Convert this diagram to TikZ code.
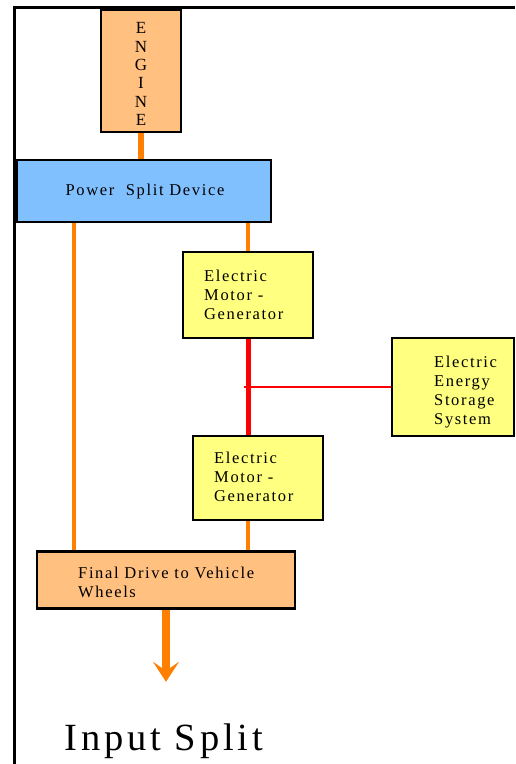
\documentclass[tikz,border=0pt]{standalone}
\usepackage{fontspec}
\setmainfont{Liberation Serif}
\newfontfamily\boxfont{Liberation Serif}[LetterSpace=10]
\newfontfamily\titlefont{Liberation Serif}[LetterSpace=10]
\usetikzlibrary{arrows.meta}
\definecolor{peach}{HTML}{FFC080}
\definecolor{skyb}{HTML}{80C0FF}
\definecolor{paley}{HTML}{FFFF80}
\definecolor{orng}{HTML}{FF8000}
\definecolor{rd}{HTML}{FF0000}
\tikzset{
  boxn/.style={draw=black, line width=2.6pt, inner sep=0pt},
  txt/.style={font=\boxfont\fontsize{16.5}{19}\selectfont, align=left, anchor=west, inner sep=0pt, text=black},
  olink/.style={draw=orng, line width=4pt},
  rlink/.style={draw=rd, line width=5pt},
}
\begin{document}
\begin{tikzpicture}[x=1pt,y=-1pt]
\useasboundingbox (0,0) rectangle (515,764);
% frame
\draw[line width=3pt] (14,764) -- (14,7) -- (515,7);
% boxes
\node[boxn, fill=peach, minimum width=80pt, minimum height=122pt] (engine) at (141,71) {};
\node[boxn, fill=skyb, minimum width=254pt, minimum height=62pt] (psd) at (144,191) {};
\node[boxn, fill=paley, minimum width=130pt, minimum height=86pt] (emg1) at (248,295) {};
\node[boxn, fill=paley, minimum width=122pt, minimum height=98pt] (eess) at (453,387) {};
\node[boxn, fill=paley, minimum width=130pt, minimum height=84pt] (emg2) at (258,478) {};
\node[boxn, fill=peach, minimum width=258pt, minimum height=57pt] (fd) at (166,580) {};
% texts
\node[font=\fontsize{17}{18.3}\selectfont, align=center, inner sep=0pt, text=black] (enginet) at (141,74) {E\\N\\G\\I\\N\\E};
\node[txt, anchor=center] (psdt) at (145,192) {Power\ \ Split Device};
\node[txt] (emg1t) at (204,295) {Electric\\Motor -\\Generator};
\node[txt] (eesst) at (434,392) {Electric\\Energy\\Storage\\System};
\node[txt] (emg2t) at (214,477) {Electric\\Motor -\\Generator};
\node[txt] (fdt) at (78,582) {Final Drive to Vehicle\\Wheels};
\node[font=\titlefont\fontsize{38.5}{40}\selectfont, inner sep=0pt] (title) at (164,741) {Input Split};
% connectors
\coordinate (lx) at (74,0);
\draw[draw=orng, line width=6pt] (engine.south) -- (psd.north -| engine.south);
\draw[olink] (psd.south -| lx) -- (fd.north -| lx);
\draw[olink] (psd.south -| emg1.north) -- (emg1.north);
\draw[rlink] (emg1.south) -- (emg2.north -| emg1.south);
\draw[draw=rd, line width=1.6pt] ([xshift=-4pt]eess.west -| emg1.south) -- (eess.west);
\draw[olink] (emg2.south -| emg1.south) -- (fd.north -| emg1.south);
\draw[draw=orng, line width=8pt, -{Stealth[length=20pt, width=26pt, inset=9pt]}] (fd.south) -- ++(0,72);
\end{tikzpicture}
\end{document}
